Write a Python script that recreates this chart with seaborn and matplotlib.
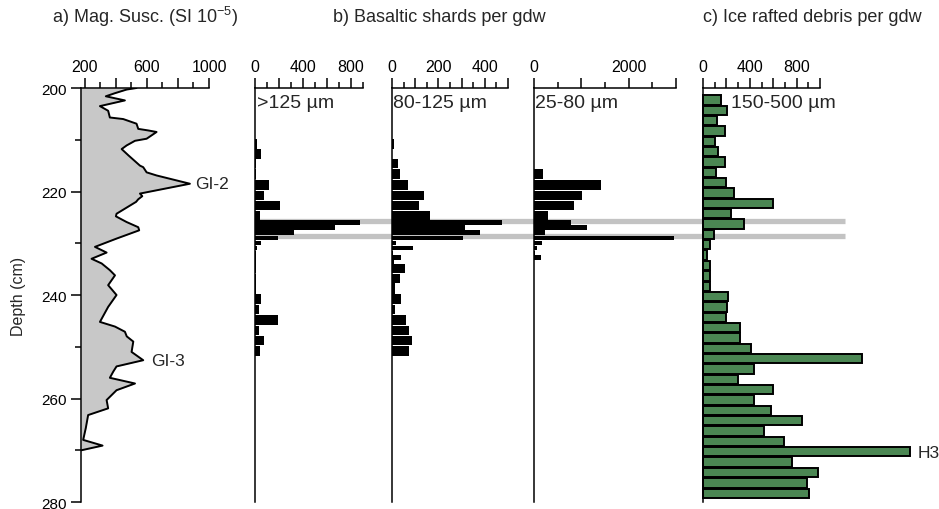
import numpy as np
import pandas as pd
import matplotlib
matplotlib.use("Agg")
import matplotlib.pyplot as plt
import matplotlib.transforms as mtransforms
from matplotlib.lines import Line2D
import seaborn as sns

# ---------------- data ----------------
# a) magnetic susceptibility (SI 10^-5) vs depth (cm)
mag_depth = [200.0, 200.3, 201.0, 201.6, 202.4, 203.5, 204.4, 205.7, 206.0, 206.9,
             207.9, 208.2, 208.5, 209.8, 210.2, 211.1, 211.8, 213.0, 215.0, 215.3,
             216.3, 216.9, 218.5, 220.4, 220.9, 221.5, 222.0, 224.3, 224.8, 225.9,
             226.9, 227.5, 229.1, 230.7, 231.8, 233.0, 233.9, 235.2, 236.2, 238.1,
             240.0, 242.3, 245.2, 246.1, 247.1, 248.0, 249.0, 251.0, 252.6, 253.8,
             254.8, 256.0, 257.1, 258.4, 260.3, 261.9, 263.2, 265.7, 268.0, 269.1,
             270.0]
mag_value = [533, 469, 394, 335, 458, 297, 350, 361, 447, 533,
             544, 608, 662, 598, 523, 469, 437, 480, 555, 576,
             598, 662, 877, 555, 570, 544, 530, 404, 400, 469,
             544, 550, 404, 265, 340, 243, 308, 361, 394, 350,
             404, 350, 297, 394, 458, 470, 512, 501, 576, 404,
             383, 361, 523, 404, 340, 350, 221, 206, 189, 314,
             178]

# b) basaltic shards per gdw: sample intervals (top/bottom depth, cm)
shard_top = [209.8, 211.8, 213.7, 215.6, 217.7, 219.8, 221.7, 223.7, 225.5, 226.5,
             227.5, 228.5, 229.5, 230.4, 231.4, 232.3, 233.3, 234.0, 235.8, 237.7,
             239.8, 241.8, 243.7, 245.9, 247.8, 249.7]
shard_bot = [211.8, 213.7, 215.6, 217.7, 219.8, 221.7, 223.7, 225.5, 226.5, 227.5,
             228.5, 229.5, 230.4, 231.4, 232.3, 233.3, 234.0, 235.8, 237.7, 239.8,
             241.8, 243.7, 245.9, 247.8, 249.7, 251.9]
shards_gt125 = [17, 50, 10, 10, 114, 72, 206, 44, 872, 664,
                322, 189, 50, 15, 8, 5, 5, 5, 5, 5,
                50, 30, 189, 35, 75, 40]
shards_80_125 = [8, 0, 24, 36, 69, 137, 116, 165, 474, 313,
                 381, 306, 19, 91, 5, 40, 8, 58, 33, 14,
                 37, 14, 62, 72, 86, 72]
shards_25_80 = [0, 0, 0, 187, 1425, 1018, 855, 290, 792, 1130,
                235, 2968, 172, 70, 28, 145, 0, 0, 0, 0,
                0, 0, 0, 0, 0, 0]

# c) ice rafted debris 150-500 um per gdw
ird_depth = [202.3, 204.3, 206.3, 208.3, 210.3, 212.3, 214.3, 216.3, 218.3, 220.3,
             222.3, 224.3, 226.3, 228.3, 230.3, 232.3, 234.3, 236.3, 238.3, 240.3,
             242.3, 244.3, 246.3, 248.3, 250.3, 252.3, 254.3, 256.3, 258.3, 260.3,
             262.3, 264.3, 266.3, 268.3, 270.3, 272.3, 274.3, 276.3, 278.3]
ird_value = [157, 208, 117, 188, 106, 131, 191, 111, 194, 266,
             600, 243, 352, 97, 61, 34, 57, 63, 60, 212,
             209, 194, 314, 320, 414, 1363, 434, 303, 600, 437,
             580, 843, 520, 691, 1771, 763, 983, 886, 909]

# tephra horizons (grey lines), depth cm
tephra_depth = [225.7, 228.6]

# tick labels
depth_ticks = [200, 220, 240, 260, 280]
mag_ticks = [200, 400, 600, 800, 1000]
mag_ticklabels = ["200", "", "600", "", "1000"]
gt125_ticks = [0, 200, 400, 600, 800]
gt125_ticklabels = ["0", "", "400", "", "800"]
s80_ticks = [0, 100, 200, 300, 400, 500]
s80_ticklabels = ["0", "", "200", "", "400", ""]
s25_ticks = [0, 1000, 2000, 3000]
s25_ticklabels = ["0", "", "2000", ""]
ird_ticks = [0, 200, 400, 600, 800, 1000]
ird_ticklabels = ["0", "", "400", "", "800", ""]

# ---------------- style ----------------
sns.set_theme(style="white")
plt.rcParams["font.family"] = ["Liberation Sans", "DejaVu Sans"]
plt.rcParams["mathtext.fontset"] = "custom"
plt.rcParams["mathtext.rm"] = "Liberation Sans"
plt.rcParams["mathtext.it"] = "Liberation Sans:italic"
plt.rcParams["axes.facecolor"] = "none"

W, H = 939, 510
fig = plt.figure(figsize=(W / 100, H / 100), dpi=100)
TOP, BOT = 89, 503


def make_ax(left, right):
    return fig.add_axes([left / W, (H - BOT) / H, (right - left) / W, (BOT - TOP) / H])


ax_a = make_ax(81, 209)
ax_b1 = make_ax(255, 363)
ax_b2 = make_ax(392, 508)
ax_b3 = make_ax(534, 676)
ax_c = make_ax(703, 820)

GREEN = "#4b8753"
GREY_FILL = "#c8c8c8"

# a) mag susc
dfm = pd.DataFrame({"depth": mag_depth, "ms": mag_value})
ax_a.fill_betweenx(dfm["depth"], 175, dfm["ms"], color=GREY_FILL, lw=0, zorder=1)
sns.lineplot(data=dfm, x="ms", y="depth", orient="y", sort=False, estimator=None,
             color="black", lw=1.4, ax=ax_a, zorder=2)
ax_a.set_xlim(175, 1000)
ax_a.text(910, 218.5, "GI-2", va="center", ha="left", fontsize=12.5)
ax_a.text(630, 252.6, "GI-3", va="center", ha="left", fontsize=12.5)

# b) shard histograms
shard_top_a = np.array(shard_top)
shard_bot_a = np.array(shard_bot)
centers = (shard_top_a + shard_bot_a) / 2
thick = (shard_bot_a - shard_top_a) * 0.93
for ax, vals, xmax in [(ax_b1, shards_gt125, 900), (ax_b2, shards_80_125, 500),
                       (ax_b3, shards_25_80, 3000)]:
    ax.barh(centers, vals, height=thick, color="black", edgecolor="none", zorder=2,
            clip_on=False)
    ax.set_xlim(0, xmax)

# c) IRD
dfi = pd.DataFrame({"depth": ird_depth, "ird": ird_value})
sns.barplot(data=dfi, x="ird", y="depth", orient="h", native_scale=True,
            color=GREEN, saturation=1, edgecolor="black", linewidth=1.4,
            width=0.9, errorbar=None, ax=ax_c, zorder=2)
for p in ax_c.patches:
    p.set_clip_on(False)
ax_c.set_xlim(0, 1000)
ax_c.text(1831, 270.5, "H3", va="center", ha="left", fontsize=12.5)

# common axis styling
tick_specs = {
    ax_a: (mag_ticks, mag_ticklabels, [300, 500, 700, 900]),
    ax_b1: (gt125_ticks, gt125_ticklabels, [100, 300, 500, 700, 900]),
    ax_b2: (s80_ticks, s80_ticklabels, [50, 150, 250, 350, 450]),
    ax_b3: (s25_ticks, s25_ticklabels, [500, 1500, 2500]),
    ax_c: (ird_ticks, ird_ticklabels, [100, 300, 500, 700, 900]),
}
for ax, (tk, tl, mn) in tick_specs.items():
    ax.set_ylim(280, 200)
    ax.set_xlabel("")
    ax.set_ylabel("")
    ax.grid(False)
    ax.patch.set_alpha(0)
    for s in ["right", "bottom"]:
        ax.spines[s].set_visible(False)
    for s in ["top", "left"]:
        ax.spines[s].set_visible(True)
        ax.spines[s].set_color("black")
        ax.spines[s].set_linewidth(1.1)
    ax.xaxis.tick_top()
    ax.set_xticks(tk)
    ax.set_xticklabels(tl)
    ax.set_xticks(mn, minor=True)
    ax.tick_params(axis="x", which="major", direction="out", length=7, width=1.1,
                   pad=3, labelsize=11.5, top=True, bottom=False, labeltop=True,
                   labelbottom=False, color="black", labelcolor="black")
    ax.tick_params(axis="x", which="minor", direction="out", length=4, width=1.1,
                   top=True, bottom=False, color="black")
    if ax is ax_a:
        ax.set_yticks(depth_ticks)
        ax.set_yticklabels([str(t) for t in depth_ticks])
        ax.set_yticks([210, 230, 250, 270], minor=True)
        ax.tick_params(axis="y", which="major", direction="out", length=7, width=1.1,
                       pad=3, labelsize=11, left=True, color="black", labelcolor="black")
        ax.tick_params(axis="y", which="minor", direction="out", length=4, width=1.1,
                       left=True, color="black")
    else:
        ax.set_yticks([])
        ax.tick_params(axis="y", which="both", left=False, labelleft=False)

# tephra lines spanning the shard + IRD panels
blend = mtransforms.blended_transform_factory(fig.transFigure, ax_c.transData)
for d in tephra_depth:
    fig.add_artist(Line2D([255 / W, 845 / W], [d, d], transform=blend,
                          color="#c3c3c3", lw=3.8, zorder=-1, solid_capstyle="butt"))

# size-fraction labels
def ftext(x, y, s, **kw):
    fig.text(x / W, 1 - y / H, s, **kw)

ftext(257, 103.5, ">125 µm", fontsize=14, va="center", ha="left")
ftext(393, 103.5, "80-125 µm", fontsize=14, va="center", ha="left")
ftext(535, 103.5, "25-80 µm", fontsize=14, va="center", ha="left")
ftext(731, 104, "150-500 µm", fontsize=14, va="center", ha="left")

# titles
ftext(52, 17, r"a) Mag. Susc. (SI 10$^{\mathregular{-5}}$)", fontsize=13, va="center", ha="left")
ftext(333, 17, "b) Basaltic shards per gdw", fontsize=13, va="center", ha="left")
ftext(703, 17, "c) Ice rafted debris per gdw", fontsize=13, va="center", ha="left")
ftext(19, 296, "Depth (cm)", fontsize=11.5, va="center", ha="center", rotation=90)

fig.savefig("out.png", dpi=100)
